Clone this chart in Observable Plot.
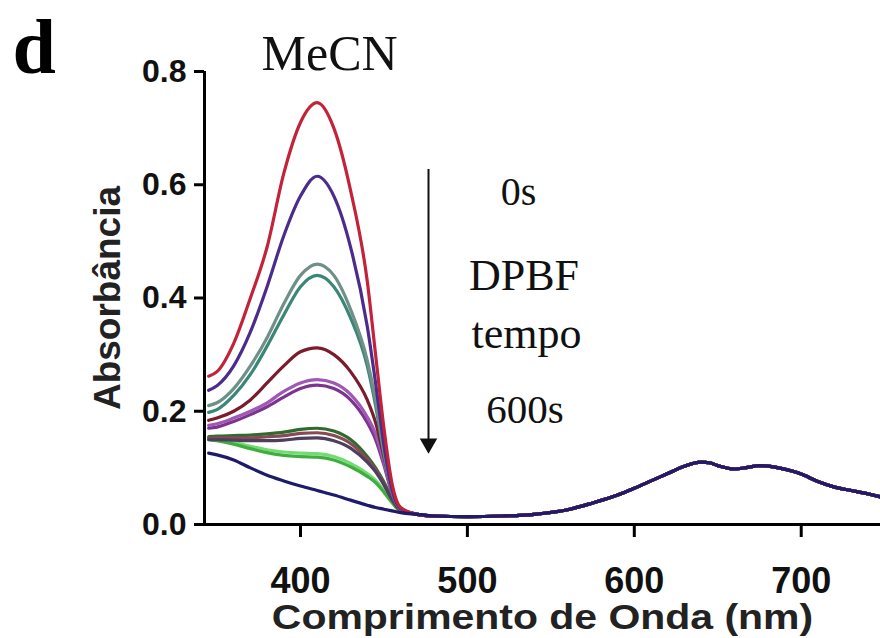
<!DOCTYPE html>
<html>
<head>
<meta charset="utf-8">
<script src="https://cdn.jsdelivr.net/npm/d3@7"></script>
<script src="https://cdn.jsdelivr.net/npm/@observablehq/plot@0.6"></script>
<style>
  html, body { margin: 0; padding: 0; background: #fff; }
  #chart { width: 880px; height: 638px; }
</style>
</head>
<body>
<div id="chart"></div>
<script>
// Wavelengths (nm) for the Soret region and the shared Q-band tail
const soretNm = [345, 350, 360, 370, 380, 390, 400, 410, 420, 430, 440, 445, 450, 455, 460];
const tailNm  = [470, 480, 500, 520, 540, 560, 575, 590, 600, 610, 620, 630, 640, 645, 650, 660, 668, 675, 685, 695, 700, 710, 720, 730, 740, 750];
const tailAbs = [0.018, 0.015, 0.014, 0.015, 0.018, 0.026, 0.038, 0.052, 0.064, 0.077, 0.090, 0.103, 0.110, 0.109, 0.104, 0.098, 0.101, 0.104, 0.101, 0.094, 0.089, 0.076, 0.066, 0.060, 0.054, 0.047];

// Soret-band absorbance of each spectrum (time series of DPBF decay)
const absRed        = [0.262, 0.270, 0.320, 0.400, 0.490, 0.620, 0.710, 0.745, 0.700, 0.590, 0.430, 0.300, 0.170, 0.070, 0.030];
const absIndigo     = [0.237, 0.245, 0.280, 0.340, 0.420, 0.510, 0.580, 0.615, 0.580, 0.490, 0.350, 0.250, 0.140, 0.060, 0.028];
const absGreyTeal   = [0.210, 0.215, 0.240, 0.280, 0.330, 0.390, 0.440, 0.460, 0.440, 0.380, 0.290, 0.220, 0.130, 0.060, 0.028];
const absTeal       = [0.198, 0.203, 0.228, 0.265, 0.315, 0.370, 0.420, 0.440, 0.420, 0.365, 0.280, 0.210, 0.125, 0.058, 0.027];
const absMaroon     = [0.184, 0.188, 0.200, 0.220, 0.250, 0.280, 0.305, 0.312, 0.300, 0.270, 0.220, 0.180, 0.120, 0.060, 0.028];
const absViolet     = [0.175, 0.178, 0.188, 0.200, 0.215, 0.235, 0.250, 0.256, 0.250, 0.230, 0.190, 0.160, 0.110, 0.055, 0.027];
const absPlum       = [0.170, 0.172, 0.182, 0.194, 0.208, 0.225, 0.240, 0.246, 0.240, 0.220, 0.180, 0.150, 0.105, 0.053, 0.026];
const absDarkGreen  = [0.155, 0.156, 0.157, 0.158, 0.160, 0.163, 0.168, 0.170, 0.165, 0.150, 0.120, 0.100, 0.075, 0.045, 0.025];
const absRosewood   = [0.152, 0.153, 0.153, 0.153, 0.155, 0.157, 0.161, 0.162, 0.157, 0.143, 0.115, 0.097, 0.072, 0.044, 0.025];
const absSlate      = [0.150, 0.150, 0.149, 0.148, 0.148, 0.149, 0.152, 0.153, 0.148, 0.135, 0.110, 0.093, 0.070, 0.043, 0.025];
const absLightGreen = [0.152, 0.150, 0.145, 0.138, 0.132, 0.128, 0.126, 0.125, 0.120, 0.108, 0.090, 0.078, 0.060, 0.040, 0.024];
const absGreen      = [0.150, 0.148, 0.142, 0.134, 0.127, 0.122, 0.120, 0.119, 0.114, 0.102, 0.085, 0.074, 0.057, 0.038, 0.023];
const absNavy       = [0.126, 0.123, 0.114, 0.100, 0.087, 0.077, 0.068, 0.060, 0.052, 0.043, 0.034, 0.030, 0.027, 0.024, 0.021];

const seriesNames  = ["s1","s2","s3","s4","s5","s6","s7","s8","s9","s10","s11","s12","s13"];
const seriesAbs    = [absRed, absIndigo, absGreyTeal, absTeal, absMaroon, absViolet, absPlum, absDarkGreen, absRosewood, absSlate, absLightGreen, absGreen, absNavy];
const seriesColors = ["#c22339", "#4b2b8c", "#6f8f88", "#3b8777", "#7a1c2c", "#a058b5", "#7d3390", "#2e6b2e", "#8a4a55", "#4e3f5e", "#72dc72", "#3fae3f", "#1d1b6a"];

const yTicks = [0, 0.2, 0.4, 0.6, 0.8];
const xTicks = [400, 500, 600, 700];

// Build tidy rows
const rows = [];
seriesNames.forEach((name, i) => {
  soretNm.forEach((nm, j) => rows.push({series: name, nm, abs: seriesAbs[i][j]}));
  tailNm.forEach((nm, j) => rows.push({series: name, nm, abs: tailAbs[j]}));
});

const drawOrder = [10, 11, 7, 8, 9, 6, 5, 4, 3, 2, 1, 0, 12];

const serif = "'Liberation Serif', 'Times New Roman', serif";
const sans = "'Liberation Sans', Arial, sans-serif";

const chart = Plot.plot({
  width: 880,
  height: 638,
  marginLeft: 204,
  marginRight: 0,
  marginTop: 71,
  marginBottom: 114,
  style: {background: "#fff", overflow: "visible"},
  x: {domain: [342.5, 747.5]},
  y: {domain: [0, 0.8]},
  color: {domain: seriesNames, range: seriesColors},
  marks: [
    ...drawOrder.map(i => Plot.line(rows.filter(d => d.series === seriesNames[i]), {
      x: "nm", y: "abs", stroke: "series", strokeWidth: 3.2, curve: "monotone-x"
    })),
    Plot.axisY({
      ticks: yTicks, tickSize: 10, tickPadding: 8, strokeWidth: 3,
      tickFormat: d3.format(".1f"), fontSize: 32, fontWeight: "bold",
      fontFamily: sans, fill: "#111", label: null
    }),
    Plot.axisX({
      ticks: xTicks, tickSize: 13, tickPadding: 30, strokeWidth: 3,
      fontSize: 36, fontWeight: "bold", fontFamily: sans, fill: "#111", label: null
    }),
    Plot.ruleY([0], {stroke: "#000", strokeWidth: 3}),
    Plot.ruleX([342.5], {y1: 0, y2: 0.8, stroke: "#000", strokeWidth: 3}),
    // axis titles
    Plot.text(["Absorbância"], {
      frameAnchor: "left", textAnchor: "middle", dx: -96, rotate: -90, fontSize: 37, fontWeight: "bold",
      fontFamily: sans, fill: "#222"
    }),
    Plot.text(["Comprimento de Onda (nm)"], {
      frameAnchor: "bottom", textAnchor: "middle", dy: 104, fontSize: 35, fontWeight: "bold",
      fontFamily: sans, fill: "#222"
    }),
    // panel letter and solvent label
    Plot.text(["d"], {
      frameAnchor: "top-left", textAnchor: "start", dx: -192, dy: -54, fontSize: 78, fontWeight: "bold",
      fontFamily: serif, fill: "#000"
    }),
    Plot.text(["MeCN"], {
      frameAnchor: "top-left", textAnchor: "start", dx: 57, dy: -37, fontSize: 50,
      fontFamily: serif, fill: "#111"
    }),
    // time arrow
    Plot.ruleX([476.7], {y1: 0.627, y2: 0.15, stroke: "#111", strokeWidth: 2}),
    Plot.dot([476.7], {x: d => d, y: 0.143, symbol: "triangle", r: 6.5, rotate: 180, fill: "#111", stroke: "none"}),
    Plot.text(["0s"], {x: 530.6, y: 0.586, fontSize: 40, fontFamily: serif, fill: "#111"}),
    Plot.text(["DPBF"], {x: 533.9, y: 0.439, fontSize: 44, fontFamily: serif, fill: "#111"}),
    Plot.text(["tempo"], {x: 535.4, y: 0.337, fontSize: 44, fontFamily: serif, fill: "#111"}),
    Plot.text(["600s"], {x: 534.5, y: 0.202, fontSize: 41, fontFamily: serif, fill: "#111"})
  ]
});

// The original x-axis title is horizontally stretched
d3.select(chart).selectAll("text")
  .filter(function() { return this.textContent === "Comprimento de Onda (nm)"; })
  .each(function() {
    const t = this.getAttribute("transform");
    if (t) this.setAttribute("transform", t + " scale(1.17,1)");
  });

document.getElementById("chart").appendChild(chart);
</script>
</body>
</html>
